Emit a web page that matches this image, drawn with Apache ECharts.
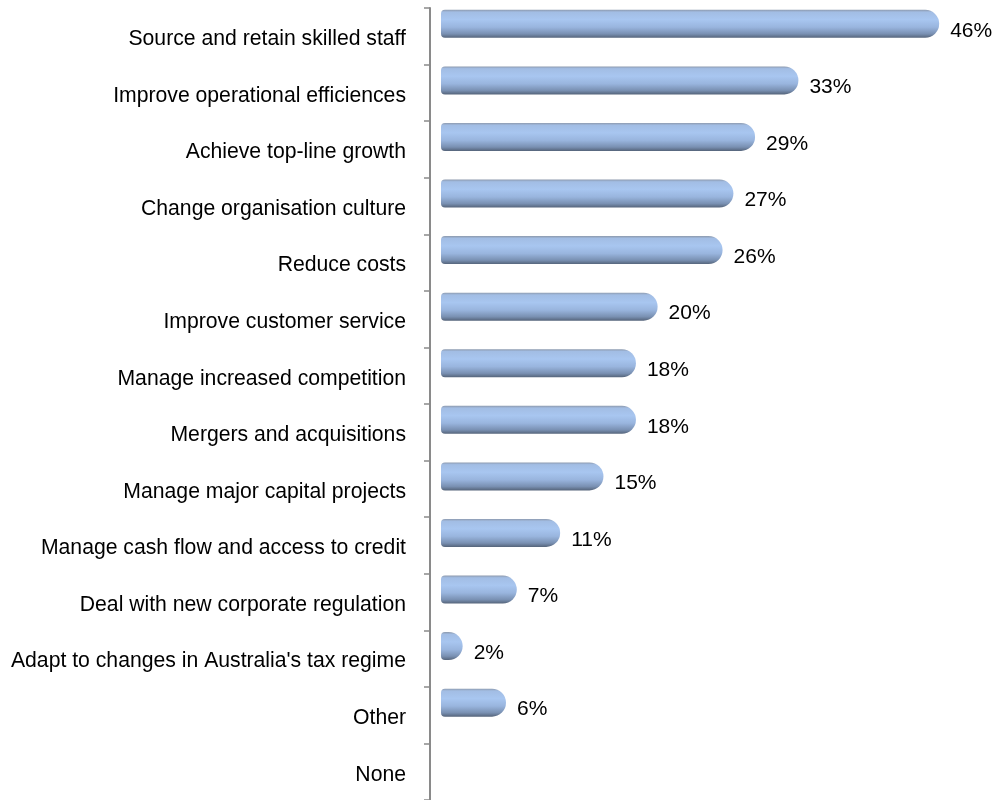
<!DOCTYPE html>
<html>
<head>
<meta charset="utf-8">
<style>
  html, body { margin: 0; padding: 0; background: #ffffff; }
  #chart { width: 994px; height: 800px; }
</style>
<script src="https://cdn.jsdelivr.net/npm/echarts@6/dist/echarts.min.js"></script>
</head>
<body>
<div id="chart"></div>
<script>
// Business priorities, share of respondents (%)
const categories = [
  'Source and retain skilled staff',
  'Improve operational efficiences',
  'Achieve top-line growth',
  'Change organisation culture',
  'Reduce costs',
  'Improve customer service',
  'Manage increased competition',
  'Mergers and acquisitions',
  'Manage major capital projects',
  'Manage cash flow and access to credit',
  'Deal with new corporate regulation',
  "Adapt to changes in Australia's tax regime",
  'Other',
  'None'
];
const shares = [46, 33, 29, 27, 26, 20, 18, 18, 15, 11, 7, 2, 6, null];

const chart = echarts.init(document.getElementById('chart'), null, { renderer: 'canvas' });

const labelFont = '"Liberation Sans", Arial, sans-serif';

// cylinder-like shading across the bar thickness
const barFill = new echarts.graphic.LinearGradient(0, 0, 0, 1, [
  { offset: 0.0, color: '#8d9aae' },
  { offset: 0.08, color: '#a2bde4' },
  { offset: 0.35, color: '#a8c6f0' },
  { offset: 0.62, color: '#99b5de' },
  { offset: 0.86, color: '#7990b2' },
  { offset: 1.0, color: '#55647a' }
]);

chart.setOption({
  animation: false,
  backgroundColor: '#ffffff',
  textStyle: { fontFamily: labelFont },
  grid: { left: 441, right: 11.5, top: 8, height: 797, containLabel: false },
  xAxis: {
    type: 'value',
    min: 0,
    max: 50,
    show: false
  },
  yAxis: {
    type: 'category',
    data: categories,
    inverse: true,
    offset: 11,
    axisLine: { show: true, onZero: false, lineStyle: { color: '#8a8a8a', width: 2 } },
    axisTick: { show: true, length: 6, inside: false, lineStyle: { color: '#8a8a8a', width: 1.5 } },
    axisLabel: {
      margin: 24,
      color: '#000000',
      fontSize: 21.2,
      fontFamily: labelFont,
      formatter: v => '{t|' + v + '}',
      rich: {
        t: {
          color: '#000000',
          fontSize: 21.2,
          fontFamily: labelFont,
          padding: [6, 0, 0, 0]
        }
      }
    },
    splitLine: { show: false }
  },
  series: [
    {
      type: 'bar',
      data: shares,
      barWidth: 28,
      barGap: '-11%',
      itemStyle: {
        color: barFill,
        borderRadius: [4, 14, 14, 4]
      },
      label: {
        show: true,
        position: 'right',
        distance: 11,
        offset: [0, 7],
        color: '#000000',
        fontSize: 21,
        fontFamily: labelFont,
        formatter: p => (p.value == null ? '' : p.value + '%')
      }
    },
    {
      // empty companion series: lifts the bars above the band centre
      type: 'bar',
      data: [],
      barWidth: 28,
      silent: true
    }
  ]
});
</script>
</body>
</html>
